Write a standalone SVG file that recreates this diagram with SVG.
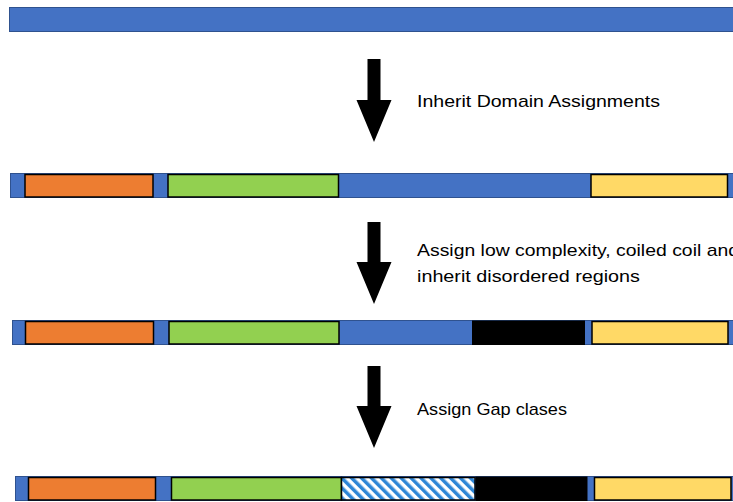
<svg xmlns="http://www.w3.org/2000/svg" width="733" height="502" viewBox="0 0 733 502">
<style>
.bar{fill:#4472C4;stroke:#2F528F;stroke-width:1}
.dom{stroke:#000;stroke-width:1.5}
.or{fill:#ED7D31}.gr{fill:#92D050}.ye{fill:#FFD966}.bk{fill:#000}
.arrow{fill:#000}
.lbl{font-family:"Liberation Sans",Arial,sans-serif;font-size:17px;fill:#000}
</style>
<defs>
<pattern id="hatch" width="7" height="7" patternUnits="userSpaceOnUse" patternTransform="rotate(-45)">
<rect width="7" height="7" fill="#fff"/>
<rect width="3.5" height="7" fill="#2E86D6"/>
</pattern>
</defs>
<g id="row1">
<rect class="bar" x="9.5" y="7.5" width="730" height="24"/>
</g>
<g id="row2">
<rect class="bar" x="10.5" y="173.5" width="730" height="24"/>
<rect class="dom or" x="25" y="174.5" width="128" height="22.5"/>
<rect class="dom gr" x="168" y="174.5" width="170.5" height="22.5"/>
<rect class="dom ye" x="591" y="174.5" width="136.5" height="22.5"/>
</g>
<g id="row3">
<rect class="bar" x="12.5" y="320.5" width="730" height="24"/>
<rect class="dom or" x="25.5" y="321.5" width="128" height="22.5"/>
<rect class="dom gr" x="169" y="321.5" width="170" height="22.5"/>
<rect class="bk" x="472" y="320.5" width="113" height="24.5"/>
<rect class="dom ye" x="592" y="321.5" width="136" height="22.5"/>
</g>
<g id="row4">
<rect class="bar" x="15.5" y="476.5" width="730" height="24"/>
<rect class="dom or" x="28.5" y="477.5" width="127" height="22.5"/>
<rect class="dom gr" x="171.5" y="477.5" width="170" height="22.5"/>
<rect class="dom" fill="url(#hatch)" x="341.5" y="477.5" width="133.5" height="22.5"/>
<rect class="bk" x="475.5" y="476.5" width="112" height="24.5"/>
<rect class="dom ye" x="594.5" y="477.5" width="136.5" height="22.5"/>
</g>
<g id="connectors">
<polygon class="arrow" points="367.5,59 380.5,59 380.5,100 391.5,100 374,142 356.5,100 367.5,100"/>
<polygon class="arrow" points="367.5,222 380.5,222 380.5,262 391.5,262 374,304 356.5,262 367.5,262"/>
<polygon class="arrow" points="367.5,366 380.5,366 380.5,406 391.5,406 374,448 356.5,406 367.5,406"/>
</g>
<g id="labels">
<text class="lbl" x="417" y="107" textLength="243" lengthAdjust="spacingAndGlyphs">Inherit Domain Assignments</text>
<text class="lbl" x="417" y="256" textLength="322" lengthAdjust="spacingAndGlyphs">Assign low complexity, coiled coil and</text>
<text class="lbl" x="417" y="282" textLength="223" lengthAdjust="spacingAndGlyphs">inherit disordered regions</text>
<text class="lbl" x="417" y="415" textLength="150" lengthAdjust="spacingAndGlyphs">Assign Gap clases</text>
</g>
</svg>
